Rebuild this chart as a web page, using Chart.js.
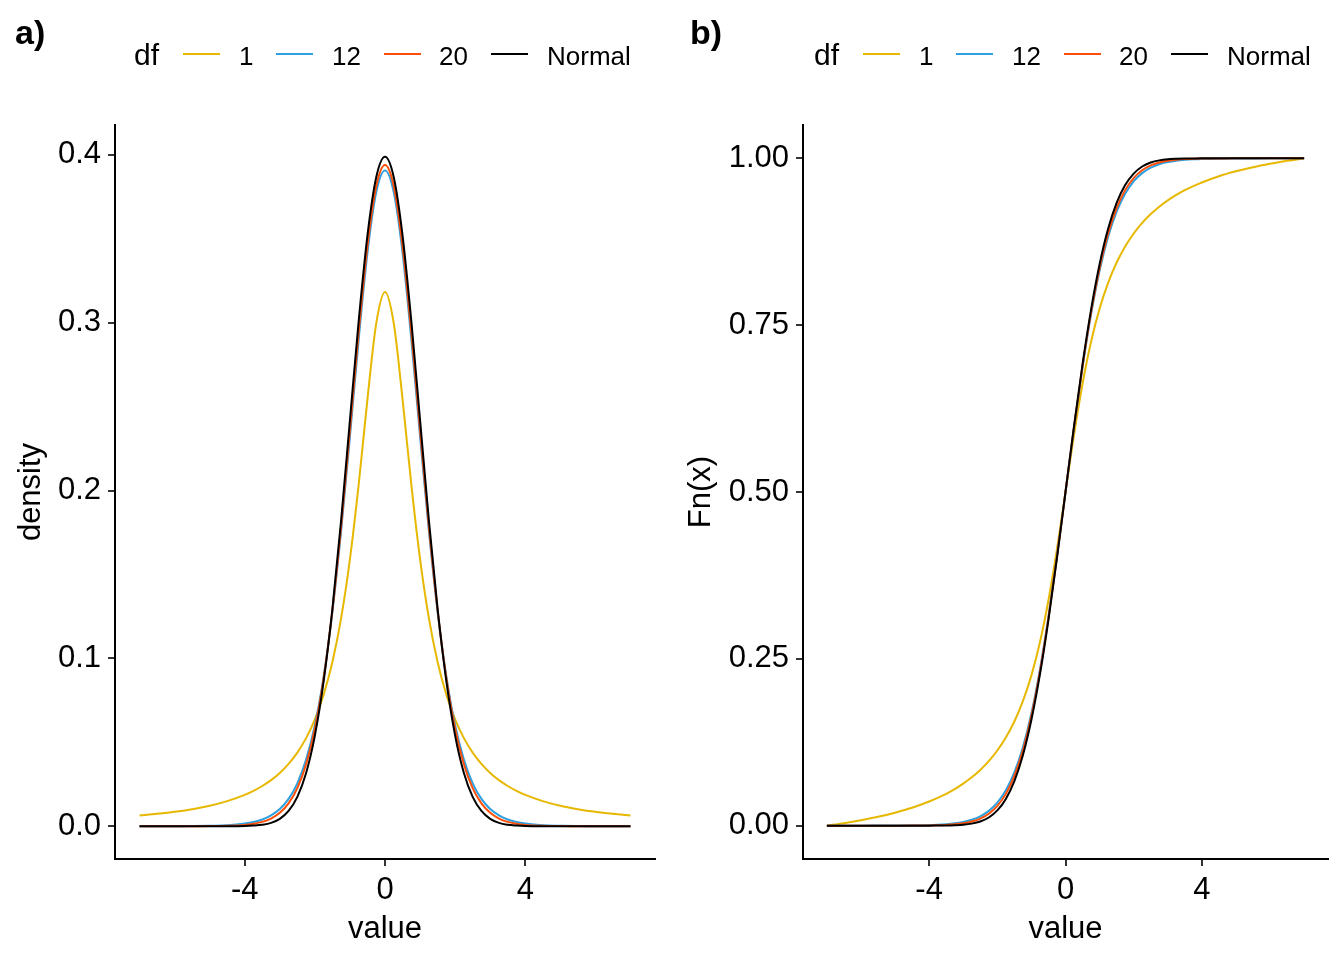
<!DOCTYPE html>
<html>
<head>
<meta charset="utf-8">
<script src="https://cdn.jsdelivr.net/npm/chart.js@4.4.1/dist/chart.umd.min.js"></script>
<style>
  body { margin: 0; background: #fff; }
  #wrap { position: relative; width: 1344px; height: 960px; overflow: hidden; font-family: "Liberation Sans", Arial, sans-serif; color: #000; }
  #wrap canvas { position: absolute; top: 0; }
  .tag { position: absolute; font-weight: bold; font-size: 34px; line-height: 34px; }
  .txt { position: absolute; line-height: 30px; height: 30px; white-space: nowrap; }
  .key { position: absolute; width: 37px; height: 2px; }
</style>
</head>
<body>
<div id="wrap">
  <canvas id="chartA" width="672" height="960" style="left:0"></canvas>
  <canvas id="chartB" width="672" height="960" style="left:672px"></canvas>
</div>
<script>
// x grid shared by every curve
const xValues = [-7, -6.5, -6, -5.5, -5, -4.5, -4, -3.75, -3.5, -3.25, -3, -2.75, -2.5, -2.25, -2, -1.75, -1.5, -1.25, -1, -0.75, -0.5, -0.25,
  0, 0.25, 0.5, 0.75, 1, 1.25, 1.5, 1.75, 2, 2.25, 2.5, 2.75, 3, 3.25, 3.5, 3.75, 4, 4.5, 5, 5.5, 6, 6.5, 7];

const seriesNames = ['1', '12', '20', 'Normal'];
const seriesColors = ['#E7B800', '#2E9FDF', '#FC4E07', '#000000'];

// panel a) density
const densityDf1 = [0.0064, 0.0074, 0.0086, 0.0102, 0.0122, 0.0150, 0.0187, 0.0211, 0.0240, 0.0275, 0.0318, 0.0372, 0.0439, 0.0525, 0.0637, 0.0784, 0.0979, 0.1242, 0.1592, 0.2037, 0.2546, 0.2996,
  0.3183, 0.2996, 0.2546, 0.2037, 0.1592, 0.1242, 0.0979, 0.0784, 0.0637, 0.0525, 0.0439, 0.0372, 0.0318, 0.0275, 0.0240, 0.0211, 0.0187, 0.0150, 0.0122, 0.0102, 0.0086, 0.0074, 0.0064];
const densityDf12 = [0, 0, 0, 0.0001, 0.0003, 0.0006, 0.0016, 0.0025, 0.0040, 0.0065, 0.0103, 0.0163, 0.0256, 0.0397, 0.0602, 0.0892, 0.1278, 0.1763, 0.2322, 0.2901, 0.3417, 0.3777,
  0.3907, 0.3777, 0.3417, 0.2901, 0.2322, 0.1763, 0.1278, 0.0892, 0.0602, 0.0397, 0.0256, 0.0163, 0.0103, 0.0065, 0.0040, 0.0025, 0.0016, 0.0006, 0.0003, 0.0001, 0, 0, 0];
const densityDf20 = [0, 0, 0, 0, 0.0001, 0.0003, 0.0008, 0.0015, 0.0026, 0.0046, 0.0080, 0.0136, 0.0227, 0.0369, 0.0581, 0.0883, 0.1286, 0.1788, 0.2360, 0.2945, 0.3458, 0.3813,
  0.3940, 0.3813, 0.3458, 0.2945, 0.2360, 0.1788, 0.1286, 0.0883, 0.0581, 0.0369, 0.0227, 0.0136, 0.0080, 0.0046, 0.0026, 0.0015, 0.0008, 0.0003, 0.0001, 0, 0, 0, 0];
const densityNormal = [0, 0, 0, 0, 0, 0, 0.0001, 0.0004, 0.0009, 0.0020, 0.0044, 0.0091, 0.0175, 0.0317, 0.0540, 0.0863, 0.1295, 0.1826, 0.2420, 0.3011, 0.3521, 0.3867,
  0.3989, 0.3867, 0.3521, 0.3011, 0.2420, 0.1826, 0.1295, 0.0863, 0.0540, 0.0317, 0.0175, 0.0091, 0.0044, 0.0020, 0.0009, 0.0004, 0.0001, 0, 0, 0, 0, 0, 0];

// panel b) Fn(x)
const cdfDf1 = [0, 0.0037, 0.0081, 0.0132, 0.0194, 0.0268, 0.0361, 0.0416, 0.0477, 0.0548, 0.0629, 0.0724, 0.0835, 0.0967, 0.1126, 0.1321, 0.1561, 0.1865, 0.2252, 0.2748, 0.3378, 0.4142,
  0.5, 0.5858, 0.6622, 0.7252, 0.7748, 0.8135, 0.8439, 0.8679, 0.8874, 0.9033, 0.9165, 0.9276, 0.9371, 0.9452, 0.9523, 0.9584, 0.9639, 0.9732, 0.9806, 0.9868, 0.9919, 0.9963, 1];
const cdfDf12 = [0, 0, 0, 0.0001, 0.0002, 0.0004, 0.0009, 0.0014, 0.0022, 0.0035, 0.0056, 0.0088, 0.0140, 0.0221, 0.0344, 0.0529, 0.0798, 0.1175, 0.1685, 0.2339, 0.3131, 0.4034,
  0.5, 0.5966, 0.6869, 0.7661, 0.8315, 0.8825, 0.9202, 0.9471, 0.9656, 0.9779, 0.9860, 0.9912, 0.9944, 0.9965, 0.9978, 0.9986, 0.9991, 0.9996, 0.9998, 0.9999, 1, 1, 1];
const cdfDf20 = [0, 0, 0, 0, 0, 0.0001, 0.0003, 0.0006, 0.0011, 0.0020, 0.0035, 0.0062, 0.0106, 0.0179, 0.0296, 0.0476, 0.0746, 0.1125, 0.1646, 0.2309, 0.3112, 0.4027,
  0.5, 0.5973, 0.6888, 0.7691, 0.8354, 0.8875, 0.9254, 0.9524, 0.9704, 0.9821, 0.9894, 0.9938, 0.9965, 0.9980, 0.9989, 0.9994, 0.9997, 0.9999, 1, 1, 1, 1, 1];
const cdfNormal = [0, 0, 0, 0, 0, 0, 0, 0.0001, 0.0002, 0.0006, 0.0013, 0.0030, 0.0062, 0.0122, 0.0228, 0.0401, 0.0668, 0.1056, 0.1587, 0.2266, 0.3085, 0.4013,
  0.5, 0.5987, 0.6915, 0.7734, 0.8413, 0.8944, 0.9332, 0.9599, 0.9772, 0.9878, 0.9938, 0.9970, 0.9987, 0.9994, 0.9998, 0.9999, 1, 1, 1, 1, 1, 1, 1];

const xTicks = [-4, 0, 4];
const densityTicks = [0, 0.1, 0.2, 0.3, 0.4];
const cdfTicks = [0, 0.25, 0.5, 0.75, 1];

const FONT = 'Liberation Sans';

function makePanel(canvasId, seriesList, opt) {
  const datasets = seriesList.map((vals, i) => ({
    label: seriesNames[i],
    data: xValues.map((x, j) => ({ x: x, y: vals[j] })),
    borderColor: seriesColors[i],
    borderWidth: 2,
    pointRadius: 0,
    fill: false,
    cubicInterpolationMode: 'monotone',
    order: seriesList.length - i   // black ends up on top
  }));

  const axisGrid = {
    drawOnChartArea: false,
    drawTicks: true,
    tickLength: 7,
    tickWidth: 2,
    tickColor: '#333333',
    color: '#333333',
    lineWidth: 2
  };

  return new Chart(document.getElementById(canvasId), {
    type: 'line',
    data: { datasets },
    options: {
      responsive: false,
      animation: false,
      devicePixelRatio: 1,
      layout: { padding: { top: 125, right: opt.rightPad, left: 0, bottom: 0 } },
      plugins: { legend: { display: false }, tooltip: { enabled: false } },
      scales: {
        x: {
          type: 'linear',
          min: -7.7,
          max: 7.7,
          afterBuildTicks: s => { s.ticks = xTicks.map(v => ({ value: v })); },
          afterFit: s => { s.height = 101; },
          grid: axisGrid,
          border: { display: true, color: '#000', width: 2 },
          ticks: {
            autoSkip: false, maxRotation: 0, padding: 6, color: '#000',
            font: { family: FONT, size: 31 },
            callback: v => String(v)
          },
          title: {
            display: true, text: 'value', color: '#000',
            font: { family: FONT, size: 31 },
            padding: { top: 0, bottom: 12 }
          }
        },
        y: {
          type: 'linear',
          min: opt.yMin,
          max: opt.yMax,
          afterBuildTicks: s => { s.ticks = opt.yTicks.map(v => ({ value: v })); },
          afterFit: s => { s.width = opt.yWidth; },
          grid: axisGrid,
          border: { display: true, color: '#000', width: 2 },
          ticks: {
            autoSkip: false, padding: 7, color: '#000',
            font: { family: FONT, size: 31 },
            callback: v => Number(v).toFixed(opt.digits)
          },
          title: {
            display: true, text: opt.yTitle, color: '#000',
            font: { family: FONT, size: 31 },
            padding: { top: opt.titlePad, bottom: 0 }
          }
        }
      }
    }
  });
}

makePanel('chartA', [densityDf1, densityDf12, densityDf20, densityNormal], {
  yMin: -0.0195, yMax: 0.4178, yTicks: densityTicks, digits: 1,
  yTitle: 'density', yWidth: 115, rightPad: 17, titlePad: 13
});

makePanel('chartB', [cdfDf1, cdfDf12, cdfDf20, cdfNormal], {
  yMin: -0.05, yMax: 1.05, yTicks: cdfTicks, digits: 2,
  yTitle: 'Fn(x)', yWidth: 131, rightPad: 16, titlePad: 11
});

// panel tags and the "df" legends, drawn as HTML text
const wrap = document.getElementById('wrap');
function addText(cls, text, left, top, size) {
  const d = document.createElement('div');
  d.className = cls;
  d.textContent = text;
  d.style.left = left + 'px';
  d.style.top = top + 'px';
  if (size) d.style.fontSize = size + 'px';
  wrap.appendChild(d);
}

addText('tag', 'a)', 15, 15);
addText('tag', 'b)', 690, 15);

const keyLefts = [183, 276, 384, 491];
const labelLefts = [239, 332, 439, 547];
[0, 680].forEach(off => {
  addText('txt', 'df', 134 + off, 40, 30);
  seriesNames.forEach((name, i) => {
    const k = document.createElement('div');
    k.className = 'key';
    k.style.left = (keyLefts[i] + off) + 'px';
    k.style.top = '53px';
    k.style.background = seriesColors[i];
    wrap.appendChild(k);
    addText('txt', name, labelLefts[i] + off, 41, 26);
  });
});
</script>
</body>
</html>
